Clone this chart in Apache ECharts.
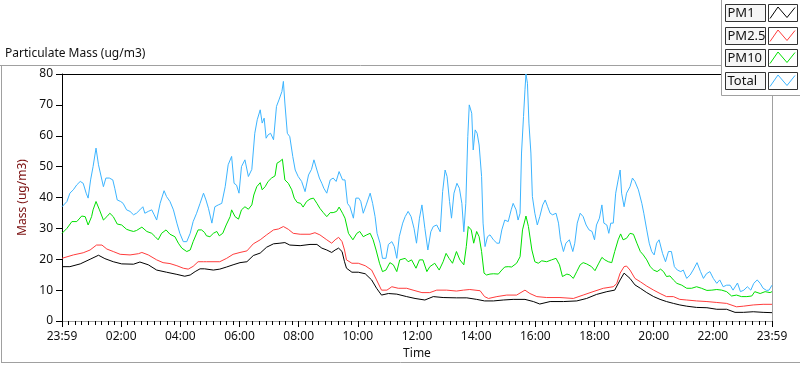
<!DOCTYPE html>
<html><head><meta charset="utf-8">
<script src="https://cdn.jsdelivr.net/npm/echarts@6/dist/echarts.min.js"></script>
<style>html,body{margin:0;padding:0;background:#fff}#c{width:800px;height:365px}</style>
</head><body><div id="c"></div>
<script>
// x values are minutes elapsed since 23:59 (start of the record); labels every 120 min
const xTickStep = 120;
const xTickLabels  = ['23:59','02:00','04:00','06:00','08:00','10:00','12:00','14:00','16:00','18:00','20:00','22:00','23:59'];
const xMinorSplit = 9;   // minor divisions per 2-hour label step
const seriesNames = ['PM1','PM2.5','PM10','Total'];

const pm1T = [0,16,37,57,74,87,104,121,145,158,175,192,212,233,249,260,270,280,289,
  293,307,320,334,347,361,375,388,402,415,429,442,452,462,483,503,517,527,537,547,554,561,568,573,
  577,588,601,615,628,638,648,662,679,699,716,736,753,773,800,821,841,857,
  875,895,915,939,956,969,990,1017,1044,1064,1084,1105,1121,1132,1140,
  1144,1152,1162,1173,1186,1200,1213,1226,1240,1253,1267,1287,1308,1328,1348,1365,1382,1402,1422,1440];
const pm1V = [17.6,17.6,18.5,20,21.3,20.2,19.2,18.5,18.4,19.1,18.2,16.5,15.8,15.1,14.5,14.9,16,16.9,16.9,
  16.6,16.5,16.8,17.5,18.2,18.9,19.2,21.2,22,23.9,25,25.2,25.4,24.6,24.4,24.8,24.8,23.6,23,22.2,23,23.6,22.5,19.2,
  17.1,15.8,15.8,15.3,13.3,10.6,8.4,8.9,8.7,7.9,7.3,6.8,7.9,7.6,7.5,7.5,7,6.5,
  6.5,6.8,7,7,6.3,5.5,6.3,6.3,6.5,7.3,8.6,9.5,10,13.3,15.5,
  15.5,13.8,11.7,10.6,9.2,7.9,7,6.3,5.7,5.2,4.8,4.4,4.3,3.8,3.8,2.8,2.8,3,2.8,2.7];

const pm25T = [0,23,43,57,70,81,91,104,118,138,155,162,175,192,205,219,233,246,256,266,276,287,
  293,320,334,347,361,375,388,402,415,429,439,449,459,469,483,503,513,523,537,547,554,561,568,573,
  577,588,601,615,628,638,648,659,669,682,699,712,730,746,760,780,800,814,827,848,857,
  865,882,902,922,939,949,963,983,1010,1037,1057,1077,1098,1118,1125,1132,1140,
  1145,1152,1162,1173,1186,1200,1213,1226,1240,1253,1267,1287,1308,1328,1348,1368,1382,1402,1422,1440];
const pm25V = [20.3,21.4,22.1,23,24.6,24.6,23.3,22.5,21.6,21.4,21.8,22.2,21.4,19.8,18.9,18.6,17.9,17.1,16.8,17.7,19.2,19.2,
  19.2,19.2,20.3,21.6,22.2,22.7,25,26.3,27.9,29.5,29.8,30.6,29.7,28.4,28.1,28.1,28.6,27.9,26.3,25.2,26.3,27.1,25.7,23,
  19.8,18.7,18.7,17.9,16.5,13.3,10,10,11.1,10.6,10.6,10,9.2,9.2,10,10,9.7,10,10.2,9.8,7.9,
  7.3,7.9,8.4,8.4,10,8.9,7.9,7.6,7.6,7.3,8.4,9.5,10.6,11.1,12.1,15.5,17.6,
  17.8,16.5,13.8,12.7,11.3,10,8.9,7.9,7.9,7,6.8,6.5,6.3,6,5.7,4.6,4.8,5.2,5.4,5.4];

const pm10T = [0,10,20,30,40,47,53,60,63,69,76,84,91,97,104,112,121,131,138,145,151,162,172,182,189,195,202,211,219,229,236,243,253,260,266,276,283,289,
  293,300,307,314,319,326,333,341,344,351,358,364,371,378,385,389,395,402,406,412,418,425,432,436,442,447,452,459,466,471,477,484,489,496,503,510,517,523,530,537,544,550,557,562,569,574,
  581,590,598,604,611,618,625,631,637,644,650,657,665,672,679,685,696,702,709,718,725,732,740,746,756,765,773,779,785,792,800,807,815,820,824,830,835,841,846,851,856,
  861,868,875,885,892,898,905,912,922,929,934,941,946,953,959,966,973,983,993,1002,1009,1015,1024,1030,1037,1044,1051,1057,1064,1074,1081,1088,1095,1101,1108,1115,1121,1128,1133,1138,
  1145,1152,1159,1166,1173,1179,1186,1193,1200,1207,1214,1220,1226,1233,1240,1247,1257,1267,1277,1287,1297,1308,1318,1328,1338,1348,1358,1368,1378,1389,1399,1405,1416,1426,1436,1440];
const pm10V = [28.4,30,32.2,32.2,34,33.8,31.1,33.8,36,38.7,36,32.7,33.8,34.9,33.8,31.4,31.1,29.7,29.3,29,29.3,30.4,29,28.4,27.3,26.3,28.4,29.5,28.1,27.3,25.2,23.6,22.5,23,25.7,29.5,29.5,28.7,
  27.6,27.3,28.4,29,27.6,28.4,31.1,33.8,36,33.8,33,36,37,36.2,37.6,40.8,43.5,44.8,42.5,43.5,45.2,46.3,47,51.1,51.7,52.4,45.7,44.6,42.5,39.8,38.4,38.1,36.9,38.7,39.5,39.8,38.1,36.5,35.1,33.8,35.1,35.1,35.5,36.9,34.9,33.3,
  28.4,26.3,28.4,29,27.3,27.9,28.4,26.3,23,18.7,16,16.5,18.9,18.2,16,19.8,20.3,19.2,19.8,17.1,19.8,19.8,16,17.6,18.7,16.5,19.2,21.9,20.3,18.7,22.5,19.8,18.2,24.1,30.6,29.5,25.2,29,27.3,22.5,15.5,
  14.9,15.2,15.3,15.2,16.5,17.5,17.6,17.5,18.7,20.8,29.5,34,30.6,23,19.2,18.7,19.5,19.2,19.8,20.3,18.2,14.4,15.2,14.9,13.8,16,18.2,18.9,18.5,17.6,16.3,18.5,20.6,19.8,19.2,18.9,22.5,26.3,28.2,26.3,
  26.8,28.4,28.1,25.2,22.5,21.4,19.8,17.6,16.5,16,16.8,16,14.4,14.6,13.3,12.2,11.6,10.6,10.6,11.1,10.6,9.9,10,10.2,10,9.5,8.1,8.4,7.9,7.9,8.1,9.5,8.9,9.5,9.2,9.5];

const totalT = [0,10,16,23,30,37,43,49,53,58,63,69,74,78,84,89,96,103,107,112,119,124,131,138,145,151,158,164,168,175,182,187,192,199,207,212,219,226,233,239,246,253,260,266,273,
  280,287,292,297,304,310,317,324,331,337,344,349,354,359,364,371,378,385,391,396,402,406,410,414,418,423,429,435,440,446,449,452,457,462,468,473,479,486,493,500,506,511,517,522,527,531,537,544,550,556,562,
  569,574,579,584,591,596,602,606,611,617,625,630,635,639,645,650,657,662,669,674,679,684,691,696,702,708,714,719,725,730,736,742,748,753,760,767,772,777,781,786,790,795,801,806,811,815,819,823,826,831,834,838,842,846,
  851,854,858,863,868,875,882,887,892,898,905,911,915,921,925,929,932,936,939,941,944,947,951,954,959,964,969,975,980,985,990,995,1002,1007,1011,1017,1022,1029,1036,1040,1045,1051,1057,1063,1069,1075,1080,1084,1090,1095,1099,1105,1109,1113,1118,1123,1128,
  1132,1135,1140,1145,1152,1157,1162,1169,1176,1180,1186,1191,1196,1201,1206,1211,1218,1224,1230,1236,1242,1248,1255,1260,1267,1274,1280,1288,1295,1301,1307,1314,1321,1328,1334,1341,1348,1355,1361,1370,1376,1383,1390,1397,1403,1410,1416,1422,1429,1434,1440];
const totalV = [37.0,38.7,41.4,42.5,44.1,45.2,44.6,41.4,39.8,45.7,50,56,50.6,50,43.5,46.3,46.3,45.7,43,39.2,38.7,38.1,36,35.5,34.4,34.9,36,37,34.9,35.5,36,34.4,32.7,38.1,42.2,40.3,38.7,36,31.7,28.4,25.7,25.7,28.4,32.2,34.9,
  38.1,41.4,39.2,36.5,31.7,37,37.6,38.1,43.5,50.6,53.3,44.6,44,41.4,50,52.2,46.8,49.1,60.8,65.2,68.4,64.1,65.7,59.2,60.3,60.8,58.7,69.5,71.6,74.3,77.6,70.6,60.8,59.7,53.3,48.9,46.8,45.2,41.9,47.3,49.1,52.2,48.9,46.3,44.6,43,41.4,45.7,46.3,45.2,48.4,
  45.7,45.7,38.1,37,33.3,39.8,39.8,38.7,34.9,37.6,41.4,38.1,33.8,28.4,25.2,20.3,20.3,24.8,25.7,24.1,20.3,27.3,31.7,33.8,35.5,33.8,30,25.2,33.3,37.6,30,23,28.9,30.6,31.1,28.9,41.9,48.9,46.8,38.7,33.3,41.4,44.6,43,38.1,28.9,38.1,59.7,70,67.3,55.4,61.9,60.8,57,
  46.8,31.7,24.1,27.3,27.9,26.3,25.2,25.2,29.5,32.7,32.2,36,38.1,36,32.7,34.9,54.4,66.2,74.9,80,77,64.1,54.4,40.3,34.9,31.1,33.8,37.6,39.2,37,34.9,34.4,34.9,31.7,26.3,22.5,25.2,26.3,22.5,25.2,31.7,34.9,33.8,31.1,29.5,29,26.3,31.1,33.3,37.6,31.7,31.1,28.4,31.7,31.7,41.4,45.7,
  48.9,41.4,37,41.4,43.5,46.3,45.2,42.5,38.1,34.9,29.5,25.2,22.5,21.4,25.2,26.3,21.9,19.2,22.5,22.5,17.6,16.5,16,16.5,13.8,14.9,16.5,18.9,16,13.8,15.3,16,13.8,12.2,13.3,11.1,11.6,11.6,10,12.3,9.5,10,11.1,10,12.2,13.3,12.2,10.6,9.9,10,11.6];

const colors = ['#000000','#ff3c3c','#00e000','#3cb4ff'];
const FONT = "'Noto Sans', 'DejaVu Sans', sans-serif";

function zip(t, v){ return t.map((x,i)=>[x, v[i]]); }

const chart = echarts.init(document.getElementById('c'));

const graphics = [
  {type:'line', shape:{x1:0,y1:65.5,x2:721,y2:65.5}, style:{stroke:'#a0a0a0',lineWidth:1}, z:5},
  {type:'line', shape:{x1:1.5,y1:65,x2:1.5,y2:362}, style:{stroke:'#a0a0a0',lineWidth:1}, z:5},
  {type:'line', shape:{x1:1,y1:362.5,x2:800,y2:362.5}, style:{stroke:'#a0a0a0',lineWidth:1}, z:5},
  {type:'rect', shape:{x:721.5,y:-2,width:82,height:97.5}, style:{fill:'#fff',stroke:'#a0a0a0',lineWidth:1}, z:20}
];
seriesNames.forEach((n,i)=>{
  const y0 = 4 + Math.round(i*22.7);
  graphics.push({type:'rect', shape:{x:725.5,y:y0+0.5,width:40,height:17}, style:{fill:'#f6f6f6',stroke:'#333',lineWidth:1}, z:21});
  graphics.push({type:'text', x:727.5, y:y0+9.5, style:{text:n, fill:'#111', font:"13px "+FONT, textVerticalAlign:'middle', verticalAlign:'middle'}, z:22});
  graphics.push({type:'rect', shape:{x:768.5,y:y0+0.5,width:29,height:17}, style:{fill:'#fff',stroke:'#333',lineWidth:1}, z:21});
  graphics.push({type:'polyline', shape:{points:[[770,y0+14.5],[778,y0+3],[787,y0+13.5],[795,y0+3.5]]}, style:{stroke:colors[i],lineWidth:1,fill:null}, z:22});
});

const option = {
  animation:false,
  backgroundColor:'#fff',
  textStyle:{fontFamily:FONT},
  title:{text:'Particulate Mass (ug/m3)', left:5, top:48, padding:0, textStyle:{fontSize:12,fontWeight:'normal',color:'#111',fontFamily:FONT}},
  grid:{left:62,right:28,top:74,bottom:44,containLabel:false},
  xAxis:[
    {type:'value',min:0,max:1440,interval:xTickStep,position:'bottom',
      axisLine:{show:true,onZero:false,lineStyle:{color:'#a0a0a0',width:1}},
      axisTick:{show:true,length:6,lineStyle:{color:'#000',width:1}},
      minorTick:{show:true,splitNumber:xMinorSplit,length:4,lineStyle:{color:'#000',width:1}},
      axisLabel:{show:true,margin:10,color:'#111',fontSize:12,fontFamily:FONT,
        formatter:function(v){const k=Math.round(v/xTickStep);return xTickLabels[k]||'';}},
      splitLine:{show:false},minorSplitLine:{show:false},
      name:'Time',nameLocation:'middle',nameGap:26,nameTextStyle:{color:'#111',fontSize:12,fontFamily:FONT}},
    {type:'value',min:0,max:1440,position:'top',
      axisLine:{show:true,onZero:false,lineStyle:{color:'#000',width:1}},
      axisTick:{show:false},axisLabel:{show:false},splitLine:{show:false}}
  ],
  yAxis:[
    {type:'value',min:0,max:80,interval:10,position:'left',
      axisLine:{show:true,onZero:false,lineStyle:{color:'#000',width:1}},
      axisTick:{show:true,length:6,lineStyle:{color:'#000'}},
      axisLabel:{color:'#111',fontSize:12,margin:9,fontFamily:FONT},
      splitLine:{show:false},
      name:'Mass (ug/m3)',nameLocation:'middle',nameGap:24,nameRotate:90,
      nameTextStyle:{color:'#7a0e0e',fontSize:12,fontFamily:FONT}},
    {type:'value',min:0,max:80,interval:10,position:'right',
      axisLine:{show:true,onZero:false,lineStyle:{color:'#a0a0a0',width:1}},
      axisTick:{show:false},axisLabel:{show:false},splitLine:{show:false}}
  ],
  series:[
    {name:seriesNames[0],type:'line',data:zip(pm1T,pm1V)},
    {name:seriesNames[1],type:'line',data:zip(pm25T,pm25V)},
    {name:seriesNames[2],type:'line',data:zip(pm10T,pm10V)},
    {name:seriesNames[3],type:'line',data:zip(totalT,totalV)}
  ].map((s,i)=>Object.assign(s,{xAxisIndex:0,yAxisIndex:0,showSymbol:false,symbol:'none',
     lineStyle:{color:colors[i],width:1},itemStyle:{color:colors[i]},z:2+i})),
  graphic:graphics
};
chart.setOption(option);
</script>
</body></html>
